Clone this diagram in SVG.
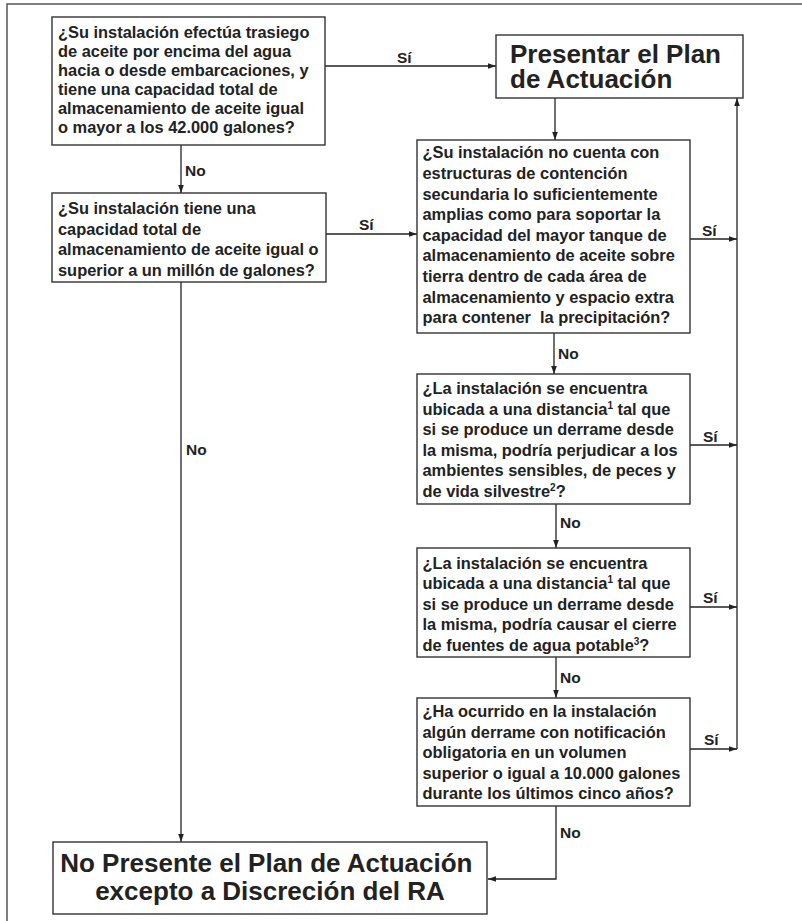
<svg xmlns="http://www.w3.org/2000/svg" width="802" height="921" viewBox="0 0 802 921">
<defs>
<marker id="ah" viewBox="0 0 10 10" refX="10" refY="5" markerWidth="8" markerHeight="8" markerUnits="userSpaceOnUse" orient="auto">
<path d="M0,1.5 L10,5 L0,8.5 Z" fill="#222"/>
</marker>
<style>
.box{fill:#fff;stroke:#333;stroke-width:1.4}
.t{font-family:"Liberation Sans",Arial,Helvetica,sans-serif;font-weight:bold;font-size:16.4px;fill:#222}
.big{font-family:"Liberation Sans",Arial,Helvetica,sans-serif;font-weight:bold;font-size:26px;fill:#222}
.lbl{font-family:"Liberation Sans",Arial,Helvetica,sans-serif;font-weight:bold;font-size:15.5px;fill:#222}
.c{fill:none;stroke:#222;stroke-width:1.3}
.sup{font-size:10px}
</style>
</defs>
<rect width="802" height="921" fill="#fff"/>
<path d="M7,921 V4 H802" fill="none" stroke="#555" stroke-width="1.5"/>

<g id="connectors">
<path class="c" d="M325,66 H496" marker-end="url(#ah)"/>
<path class="c" d="M181,145 V193" marker-end="url(#ah)"/>
<path class="c" d="M326,234 H417" marker-end="url(#ah)"/>
<path class="c" d="M181,282 V842" marker-end="url(#ah)"/>
<path class="c" d="M555,98 V140" marker-end="url(#ah)"/>
<path class="c" d="M690,239 H737" marker-end="url(#ah)"/>
<path class="c" d="M554,333 V374" marker-end="url(#ah)"/>
<path class="c" d="M690,445 H737" marker-end="url(#ah)"/>
<path class="c" d="M556,504 V548" marker-end="url(#ah)"/>
<path class="c" d="M690,607 H737" marker-end="url(#ah)"/>
<path class="c" d="M556,657 V698" marker-end="url(#ah)"/>
<path class="c" d="M690,749 H737" marker-end="url(#ah)"/>
<path class="c" d="M556,806 V879 H488" marker-end="url(#ah)"/>
<path class="c" d="M737,749 V98" marker-end="url(#ah)"/>
<text class="lbl" x="397" y="63">Sí</text>
<text class="lbl" x="185" y="176">No</text>
<text class="lbl" x="359" y="230">Sí</text>
<text class="lbl" x="186" y="455">No</text>
<text class="lbl" x="702" y="236">Sí</text>
<text class="lbl" x="558" y="359">No</text>
<text class="lbl" x="703" y="442">Sí</text>
<text class="lbl" x="560" y="528">No</text>
<text class="lbl" x="703" y="603">Sí</text>
<text class="lbl" x="560" y="683">No</text>
<text class="lbl" x="704" y="745">Sí</text>
<text class="lbl" x="560" y="838">No</text>
</g>

<g id="q1">
<rect class="box" x="52" y="17" width="273" height="128"/>
<text class="t">
<tspan x="58" y="37.5">¿Su instalación efectúa trasiego</tspan>
<tspan x="58" y="56.6">de aceite por encima del agua</tspan>
<tspan x="58" y="75.7">hacia o desde embarcaciones, y</tspan>
<tspan x="58" y="94.8">tiene una capacidad total de</tspan>
<tspan x="58" y="113.9">almacenamiento de aceite igual</tspan>
<tspan x="58" y="133">o mayor a los 42.000 galones?</tspan>
</text>
</g>

<g id="presentar">
<rect class="box" x="496" y="35" width="247" height="63"/>
<text class="big">
<tspan x="510" y="63">Presentar el Plan</tspan>
<tspan x="510" y="88">de Actuación</tspan>
</text>
</g>

<g id="q2">
<rect class="box" x="52" y="193" width="274" height="89"/>
<text class="t">
<tspan x="58" y="213.8">¿Su instalación tiene una</tspan>
<tspan x="58" y="234.6">capacidad total de</tspan>
<tspan x="58" y="255.4">almacenamiento de aceite igual o</tspan>
<tspan x="58" y="276.2">superior a un millón de galones?</tspan>
</text>
</g>

<g id="q3">
<rect class="box" x="417" y="140" width="273" height="193"/>
<text class="t">
<tspan x="422.5" y="158.3">¿Su instalación no cuenta con</tspan>
<tspan x="422.5" y="178.9">estructuras de contención</tspan>
<tspan x="422.5" y="199.5">secundaria lo suficientemente</tspan>
<tspan x="422.5" y="220.1">amplias como para soportar la</tspan>
<tspan x="422.5" y="240.7">capacidad del mayor tanque de</tspan>
<tspan x="422.5" y="261.3">almacenamiento de aceite sobre</tspan>
<tspan x="422.5" y="281.9">tierra dentro de cada área de</tspan>
<tspan x="422.5" y="302.5">almacenamiento y espacio extra</tspan>
<tspan x="422.5" y="323.1">para contener&#160; la precipitación?</tspan>
</text>
</g>

<g id="q4">
<rect class="box" x="417" y="374" width="273" height="130"/>
<text class="t">
<tspan x="422.5" y="394">¿La instalación se encuentra</tspan>
<tspan x="422.5" y="414.5">ubicada a una distancia<tspan class="sup" dy="-6">1</tspan><tspan dy="6"> tal que</tspan></tspan>
<tspan x="422.5" y="435">si se produce un derrame desde</tspan>
<tspan x="422.5" y="455.5">la misma, podría perjudicar a los</tspan>
<tspan x="422.5" y="476">ambientes sensibles, de peces y</tspan>
<tspan x="422.5" y="496.5">de vida silvestre<tspan class="sup" dy="-6">2</tspan><tspan dy="6">?</tspan></tspan>
</text>
</g>

<g id="q5">
<rect class="box" x="417" y="548" width="273" height="109"/>
<text class="t">
<tspan x="422.5" y="569">¿La instalación se encuentra</tspan>
<tspan x="422.5" y="589.4">ubicada a una distancia<tspan class="sup" dy="-6">1</tspan><tspan dy="6"> tal que</tspan></tspan>
<tspan x="422.5" y="609.8">si se produce un derrame desde</tspan>
<tspan x="422.5" y="630.2">la misma, podría causar el cierre</tspan>
<tspan x="422.5" y="650.6">de fuentes de agua potable<tspan class="sup" dy="-6">3</tspan><tspan dy="6">?</tspan></tspan>
</text>
</g>

<g id="q6">
<rect class="box" x="417" y="698" width="273" height="108"/>
<text class="t">
<tspan x="422.5" y="717.3">¿Ha ocurrido en la instalación</tspan>
<tspan x="422.5" y="737.8">algún derrame con notificación</tspan>
<tspan x="422.5" y="758.3">obligatoria en un volumen</tspan>
<tspan x="422.5" y="778.8">superior o igual a 10.000 galones</tspan>
<tspan x="422.5" y="799.3">durante los últimos cinco años?</tspan>
</text>
</g>

<g id="noPresente">
<rect class="box" x="53" y="842" width="434" height="72"/>
<text class="big" text-anchor="middle">
<tspan x="270" y="872">No Presente el Plan de Actuación</tspan>
<tspan x="270" y="900">excepto a Discreción del RA</tspan>
</text>
</g>
</svg>
